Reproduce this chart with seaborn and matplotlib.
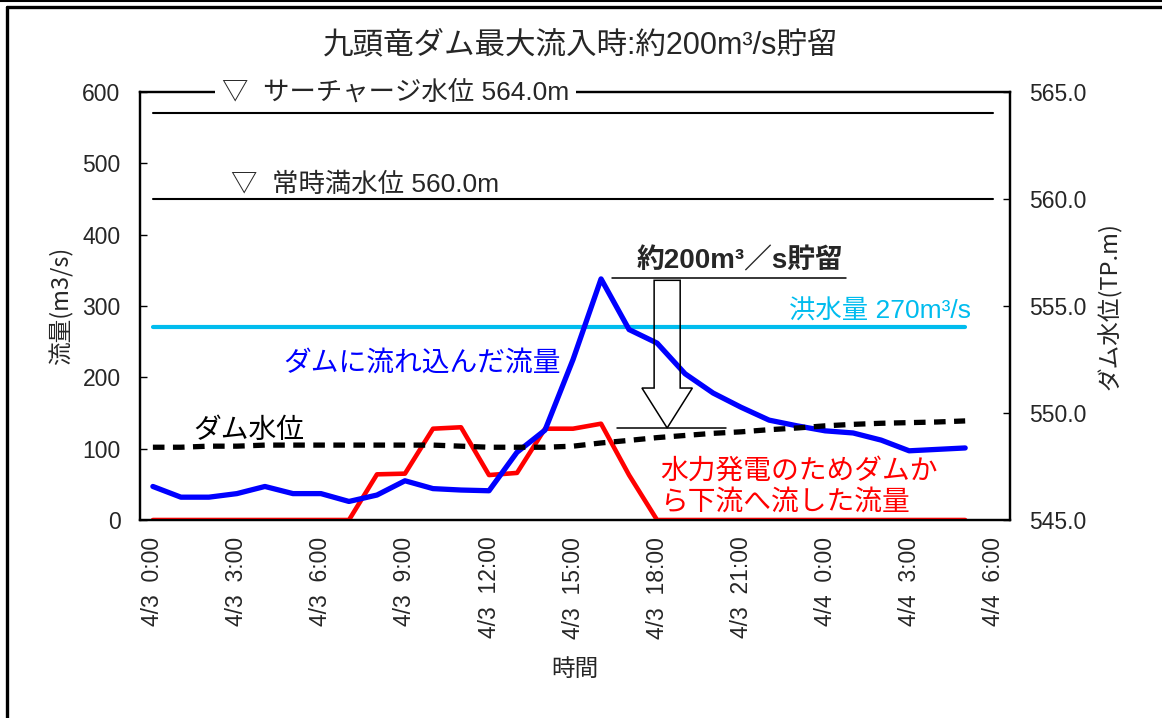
import matplotlib
matplotlib.use('Agg')
import matplotlib.pyplot as plt
import seaborn as sns
import pandas as pd
from matplotlib.patches import FancyArrow
from matplotlib.lines import Line2D

# data (hourly, 4/3 0:00 - 4/4 5:00)
hours = list(range(30))
inflow = [47, 32, 32, 37, 47, 37, 37, 26, 35, 55, 44, 42, 41, 95, 126,
          225, 338, 267, 248, 205, 178, 158, 140, 132, 125, 122, 112, 97, 99, 101]
outflow = [0, 0, 0, 0, 0, 0, 0, 0, 64, 65, 128, 130, 63, 66, 128,
           128, 135, 63, 0, 0, 0, 0, 0, 0, 0, 0, 0, 0, 0, 0]
level = [548.4, 548.4, 548.45, 548.45, 548.5, 548.5, 548.5, 548.5, 548.5, 548.5,
         548.5, 548.45, 548.4, 548.4, 548.4, 548.45, 548.6, 548.72, 548.85, 548.95,
         549.05, 549.12, 549.22, 549.3, 549.4, 549.47, 549.52, 549.55, 549.58, 549.63]
tick_hours = list(range(0, 31, 3))
tick_labels = ['4/3  0:00', '4/3  3:00', '4/3  6:00', '4/3  9:00', '4/3  12:00',
               '4/3  15:00', '4/3  18:00', '4/3  21:00', '4/4  0:00', '4/4  3:00',
               '4/4  6:00']
surcharge_level = 564.0
normal_level = 560.0
flood_flow = 270
stored_top = 339
stored_bottom = 129

df = pd.DataFrame({'hour': hours, 'inflow': inflow, 'outflow': outflow, 'level': level})

sns.set_style('white')
plt.rcParams['font.family'] = ['Liberation Sans', 'Noto Sans CJK JP', 'DejaVu Sans']
cjk = ['Noto Sans CJK JP', 'DejaVu Sans']

fig = plt.figure(figsize=(11.62, 7.18), dpi=100)
ax = fig.add_axes([140 / 1162, 1 - 520 / 718, 870 / 1162, 428 / 718])
ax2 = ax.twinx()

# flows
sns.lineplot(data=df, x='hour', y='inflow', ax=ax, color='#0000FF', lw=3.8, zorder=4)
sns.lineplot(data=df, x='hour', y='outflow', ax=ax, color='#FF0000', lw=3.3, zorder=3)
ax.plot([hours[0], hours[-1]], [flood_flow, flood_flow], color='#00BCEE', lw=3.0, zorder=2)

# dam level on right axis
sns.lineplot(data=df, x='hour', y='level', ax=ax2, color='black', lw=3.8,
             linestyle=(0, (2.2, 1.6)), dash_capstyle='butt')
ax2.plot([0, 30], [surcharge_level, surcharge_level], color='black', lw=1.5)
ax2.plot([0, 30], [normal_level, normal_level], color='black', lw=1.5)

ax.set_xlim(-0.46, 30.6)
ax.set_ylim(0, 600)
ax2.set_ylim(545, 565)
ax.set_yticks(range(0, 601, 100))
ax2.set_yticks([545, 550, 555, 560, 565])
ax2.set_yticklabels([f'{v:.1f}' for v in [545, 550, 555, 560, 565]])

ax.set_xticks(tick_hours)
ax.set_xticklabels(tick_labels, rotation=90)
ax.set_xticks([2.57 + 3 * k for k in range(10)], minor=True)
ax.tick_params(axis='x', which='major', length=0, pad=12, labelsize=16.5)
ax.tick_params(axis='x', which='minor', direction='in', length=5, width=1, color='black')
ax.tick_params(axis='y', direction='in', length=5, width=1, pad=14, labelsize=16.5, color='black')
ax2.tick_params(axis='y', direction='in', length=5, width=1, pad=14, labelsize=16.5, color='black')

for a in (ax, ax2):
    for s in a.spines.values():
        s.set_color('black')
        s.set_linewidth(1.6)

ax.set_xlabel('時間', family=cjk, fontsize=17, labelpad=14)
ax.set_ylabel('流量(m3/s)', family=cjk, fontsize=17, labelpad=6)
ax2.set_ylabel('ダム水位(TP.m)', family=cjk, fontsize=17, labelpad=8, rotation=90)

# storage annotation
ax.plot([16.4, 24.75], [stored_top, stored_top], color='black', lw=1.1)
ax.plot([16.57, 20.46], [stored_bottom, stored_bottom], color='black', lw=1.1)
ax.add_patch(FancyArrow(18.36, stored_top - 3, 0, stored_bottom - stored_top + 3,
                        width=0.93, head_width=1.8, head_length=56,
                        length_includes_head=True, fill=False, ec='black', lw=1.1, zorder=5))
ax.text(20.96, 362, '約200m³／s貯留', fontsize=20, fontweight='bold', ha='center', va='center')

ax.text(29.2, 292, '洪水量 270m³/s', color='#00BCEE', fontsize=19, ha='right', va='center')
ax.text(4.64, 220, 'ダムに流れ込んだ流量', color='#0000FF', family=cjk, fontsize=20, va='center')
ax.text(1.43, 126, 'ダム水位', color='black', family=cjk, fontsize=20, va='center')
ax.text(18.1, 48, '水力発電のためダムか\nら下流へ流した流量', color='#FF0000', family=cjk,
        fontsize=20, va='center', linespacing=1.05)

ax2.text(0.094, 1.0, '▽  サーチャージ水位 564.0m', transform=ax2.transAxes, fontsize=19,
         va='center', ha='left', zorder=10,
         bbox=dict(boxstyle='square,pad=0.25', fc='white', ec='none'))
ax2.text(2.8, 560.65, '▽  常時満水位 560.0m', fontsize=19, va='center', ha='left')

fig.suptitle('九頭竜ダム最大流入時:約200m³/s貯留', fontsize=22, y=1 - 45 / 718, va='center')

# outer frame
fig.add_artist(Line2D([6.5 / 1162, 6.5 / 1162], [0, 1 - 6.5 / 718], color='black', lw=2.4))
fig.add_artist(Line2D([6.5 / 1162, 1], [1 - 6.5 / 718, 1 - 6.5 / 718], color='black', lw=2.4))
fig.add_artist(Line2D([0, 1], [1 - 1 / 718, 1 - 1 / 718], color='black', lw=1.5))

fig.savefig('out.png', dpi=100)
